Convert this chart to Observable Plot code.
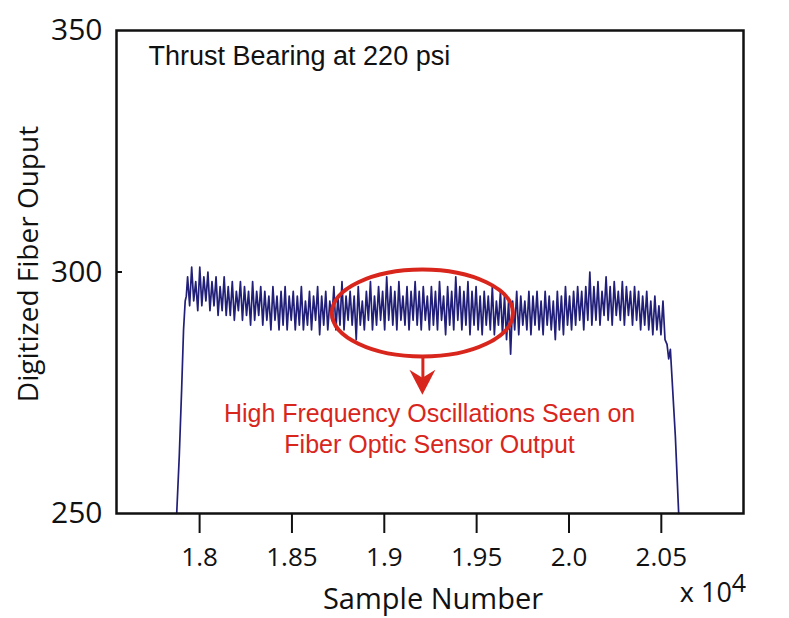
<!DOCTYPE html>
<html><head><meta charset="utf-8">
<script src="https://cdn.jsdelivr.net/npm/d3@7"></script>
<script src="https://cdn.jsdelivr.net/npm/@observablehq/plot@0.6"></script>
<style>body{margin:0;background:#fff} svg{display:block}</style>
</head><body><div id="chart"></div>
<script>
// ---- data ----
const xTicks = [18000, 18500, 19000, 19500, 20000, 20500];
const xTickLabels = ["1.8", "1.85", "1.9", "1.95", "2.0", "2.05"];
const yTicks = [250, 300, 350];
const yTickLabels = ["250", "300", "350"];
const yInnerTicks = [300];

const rampUpSample = [17876, 17890, 17903, 17913, 17922, 17928];
const rampUpValue  = [250, 262, 276, 288, 294, 295];

const bodyStart = 17935;   // first sample of the oscillating part
const bodyStep = 11;       // sample spacing
const bodyValues = [
  299,293,301,294,298,292,301,293,299,294,300,292,298,293,299,291,297,292,299,291,
  297,291,298,290,296,292,298,290,297,291,296,289,298,290,296,291,297,289,296,290,
  295,288,297,290,295,288,296,289,297,288,295,290,296,288,295,289,297,288,294,289,
  296,288,295,290,297,287,295,289,296,288,294,290,297,288,295,289,298,288,295,290,
  296,289,295,286,297,289,294,288,296,290,298,288,295,289,297,290,296,288,299,290,
  297,289,296,288,298,290,295,289,297,288,296,290,298,289,296,288,297,290,295,288,
  297,289,296,288,298,290,295,287,297,289,296,288,299,290,297,288,296,289,298,287,
  296,289,297,288,295,287,296,289,295,288,297,287,294,289,296,287,295,286,294,283,
  294,288,296,287,295,289,294,288,296,287,295,289,296,288,294,287,296,289,295,288,
  294,286,296,288,295,287,297,289,295,288,296,289,297,290,296,288,297,290,300,289,
  297,290,298,289,296,291,299,290,297,289,298,291,296,290,298,289,297,291,296,289,
  297,290,296,288,295,289,296,288,294,287,295,288,293,287,294,286
];

const rampDownSample = [20531, 20540, 20549, 20558, 20567, 20576, 20585, 20594];
const rampDownValue  = [285, 282, 284, 278, 272, 266, 258, 250];

const titleText = "Thrust Bearing at 220 psi";
const noteLines = ["High Frequency Oscillations Seen on", "Fiber Optic Sensor Output"];
const noteSample = 19245;
const noteValues = [270.6, 264.2];
const ellipseCenter = {sample: 19209, value: 291.4};
const ellipseRadius = {sample: 490, value: 9.0};
const arrowTipValue = 274.5;

// ---- build table ----
const data = [];
rampUpSample.forEach((s, i) => data.push({sample: s, value: rampUpValue[i]}));
bodyValues.forEach((v, i) => data.push({sample: bodyStart + i * bodyStep, value: v}));
rampDownSample.forEach((s, i) => data.push({sample: s, value: rampDownValue[i]}));

const red = "#d8261d";
const navy = "#211f78";

const plot = Plot.plot({
  width: 789, height: 618,
  marginLeft: 116, marginRight: 46, marginTop: 30, marginBottom: 105,
  style: {background: "#fff", fontFamily: "'Open Sans', sans-serif", color: "#111"},
  x: {domain: [17550, 20945]},
  y: {domain: [250, 350]},
  marks: [
    Plot.axisX({ticks: xTicks, tickFormat: d => xTickLabels[xTicks.indexOf(d)], tickSize: 20, tickPadding: 14,
      fontSize: 26, strokeWidth: 2, label: null, fontFamily: "'Open Sans', sans-serif"}),
    Plot.axisY({ticks: yTicks, tickFormat: d => yTickLabels[yTicks.indexOf(d)], tickSize: 0, tickPadding: 14,
      fontSize: 30, label: null, fontFamily: "'Open Sans', sans-serif"}),
    Plot.ruleY(yInnerTicks, {insetRight: 621, stroke: "#111", strokeWidth: 2}),
    Plot.line(data, {x: "sample", y: "value", stroke: navy, strokeWidth: 1.7}),
    Plot.text([titleText], {frameAnchor: "top-left", dx: 32, dy: 26, textAnchor: "start", lineAnchor: "middle",
      fontSize: 27, fontFamily: "'Liberation Sans', Arial, sans-serif", fill: "#111", letterSpacing: 0.8}),
    Plot.text(noteLines, {x: () => noteSample, y: (d, i) => noteValues[i], textAnchor: "middle", lineAnchor: "middle",
      fontSize: 25, fontFamily: "'Liberation Sans', Arial, sans-serif", fill: red}),
    Plot.ruleX([ellipseCenter.sample], {y1: ellipseCenter.value - ellipseRadius.value, y2: arrowTipValue + 2.5,
      stroke: red, strokeWidth: 3}),
    Plot.frame({stroke: "#111", strokeWidth: 2.5})
  ]
});

const sx = plot.scale("x"), sy = plot.scale("y");
const svg = d3.select(plot);
const cx = sx.apply(ellipseCenter.sample), cy = sy.apply(ellipseCenter.value);
svg.append("ellipse")
  .attr("cx", cx).attr("cy", cy)
  .attr("rx", sx.apply(ellipseCenter.sample + ellipseRadius.sample) - cx)
  .attr("ry", cy - sy.apply(ellipseCenter.value + ellipseRadius.value))
  .attr("fill", "none").attr("stroke", red).attr("stroke-width", 4);
const tipY = sy.apply(arrowTipValue);
svg.append("path")
  .attr("d", `M${cx},${tipY} L${cx - 13},${tipY - 25} L${cx},${tipY - 17} L${cx + 13},${tipY - 25} Z`)
  .attr("fill", red);

svg.append("text").text("Sample Number")
  .attr("x", 433).attr("y", 609).attr("text-anchor", "middle")
  .attr("font-size", 29).attr("font-family", "'Open Sans', sans-serif").attr("fill", "#111");
svg.append("text")
  .attr("transform", "translate(38,264) rotate(-90)").attr("text-anchor", "middle")
  .attr("font-size", 28).attr("font-family", "'Open Sans', sans-serif").attr("fill", "#111")
  .text("Digitized Fiber Ouput");
const pw = svg.append("text").attr("x", 713).attr("y", 602)
  .attr("font-size", 27).attr("font-family", "'Open Sans', sans-serif").attr("fill", "#111");
pw.append("tspan").text("x 10");
pw.append("tspan").text("4").attr("font-size", 25).attr("dy", -10);

document.getElementById("chart").append(plot);
</script>
</body></html>
